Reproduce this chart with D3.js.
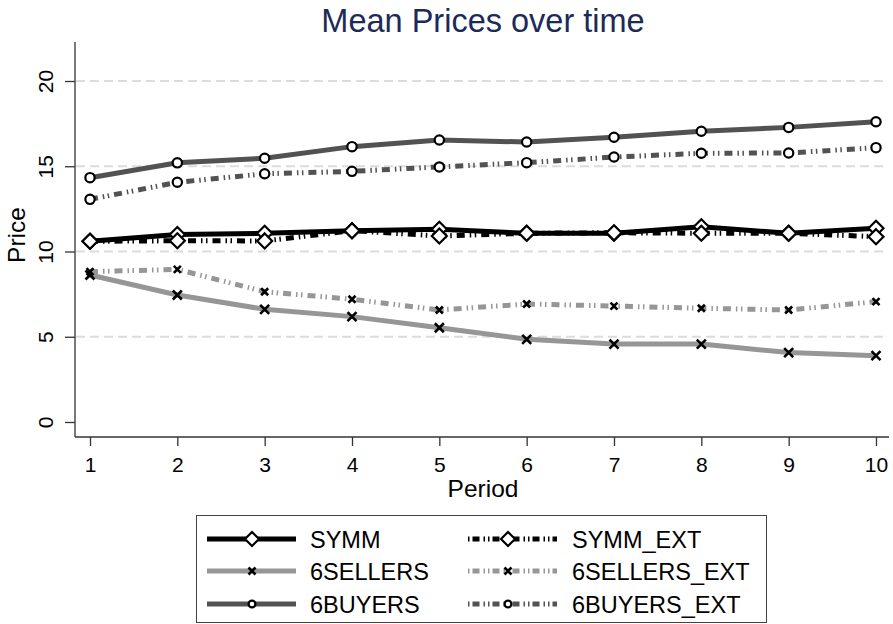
<!DOCTYPE html>
<html>
  <head>
    <script src="https://cdnjs.cloudflare.com/ajax/libs/d3/7.8.5/d3.min.js"></script>
    <style>
      body { margin: 0; background: #fff; }
      svg { font-family: "Liberation Sans", Arial, sans-serif; }
      .grid line { stroke: #dcdcdc; stroke-width: 2; stroke-dasharray: 9 5; }
      .axis path, .axis line { stroke: #333; stroke-width: 1.3; }
      .axis text { fill: #000; font-size: 21px; }
    </style>
  </head>
  <body>
    <svg width="893" height="624"></svg>
    <script>
      // values
      var periods = [1, 2, 3, 4, 5, 6, 7, 8, 9, 10];
      var yTicks = [0, 5, 10, 15, 20];
      var seriesNames = ["SYMM", "SYMM_EXT", "6SELLERS", "6SELLERS_EXT", "6BUYERS", "6BUYERS_EXT"];

      var symm        = [10.6, 11.0, 11.07, 11.22, 11.3, 11.07, 11.07, 11.45, 11.07, 11.36];
      var symmExt     = [10.6, 10.63, 10.62, 11.22, 10.91, 11.07, 11.1, 11.07, 11.07, 10.87];
      var sellers     = [8.62, 7.45, 6.61, 6.18, 5.53, 4.85, 4.57, 4.57, 4.07, 3.89];
      var sellersExt  = [8.82, 8.95, 7.64, 7.2, 6.57, 6.92, 6.8, 6.67, 6.57, 7.06];
      var buyers      = [14.33, 15.2, 15.47, 16.15, 16.54, 16.42, 16.7, 17.05, 17.28, 17.61];
      var buyersExt   = [13.06, 14.06, 14.56, 14.7, 14.96, 15.21, 15.54, 15.76, 15.78, 16.09];

      var seriesValues = [symm, symmExt, sellers, sellersExt, buyers, buyersExt];
      var colors = ["#000000", "#000000", "#969696", "#969696", "#525252", "#525252"];
      var markers = ["diamond", "diamond", "cross", "cross", "circle", "circle"];
      var dashed = [false, true, false, true, false, true];

      var svg = d3.select("svg");

      var x = d3.scaleLinear().domain([1, 10]).range([90, 876]);
      var y = d3.scaleLinear().domain([0, 20]).range([422, 81]);

      // title
      svg.append("text")
        .attr("x", 483).attr("y", 32)
        .attr("text-anchor", "middle")
        .style("font-size", "32.5px")
        .style("fill", "#1c2a57")
        .text("Mean Prices over time");

      // gridlines
      svg.append("g").attr("class", "grid")
        .selectAll("line")
        .data(yTicks.filter(d => d > 0))
        .enter().append("line")
        .attr("x1", 76).attr("x2", 886)
        .attr("y1", d => y(d)).attr("y2", d => y(d));

      // y axis
      var yAxis = svg.append("g").attr("class", "axis")
        .attr("transform", "translate(75,0)")
        .call(d3.axisLeft(y).tickValues(yTicks).tickSize(10).tickSizeOuter(0));
      yAxis.select(".domain").attr("d", "M0,42V437");
      yAxis.selectAll(".tick text")
        .attr("transform", "rotate(-90)")
        .attr("x", 0).attr("dy", null)
        .attr("y", -22)
        .attr("text-anchor", "middle");

      // x axis
      var xAxis = svg.append("g").attr("class", "axis")
        .attr("transform", "translate(0,437)")
        .call(d3.axisBottom(x).tickValues(periods).tickSize(9).tickSizeOuter(0));
      xAxis.select(".domain").attr("d", "M75,0H889");
      xAxis.selectAll("text").attr("y", 35).attr("dy", null);

      svg.append("text")
        .attr("transform", "translate(25,235) rotate(-90)")
        .attr("text-anchor", "middle")
        .style("font-size", "24.5px")
        .text("Price");

      svg.append("text")
        .attr("x", 483).attr("y", 497)
        .attr("text-anchor", "middle")
        .style("font-size", "24.5px")
        .text("Period");

      function drawMarker(g, type, cx, cy, s) {
        if (type == "diamond") {
          g.append("path")
            .attr("d", "M" + cx + "," + (cy - s) + "L" + (cx + s) + "," + cy + "L" + cx + "," + (cy + s) + "L" + (cx - s) + "," + cy + "Z")
            .style("fill", "#fff").style("stroke", "#000").style("stroke-width", 2.2);
        } else if (type == "circle") {
          g.append("circle")
            .attr("cx", cx).attr("cy", cy).attr("r", s * 0.62)
            .style("fill", "#fff").style("stroke", "#000").style("stroke-width", 2.2);
        } else {
          var c = s * 0.5;
          g.append("path")
            .attr("d", "M" + (cx - c) + "," + (cy - c) + "L" + (cx + c) + "," + (cy + c) + "M" + (cx - c) + "," + (cy + c) + "L" + (cx + c) + "," + (cy - c))
            .style("stroke", "#000").style("stroke-width", 2.6).style("fill", "none");
        }
      }

      var line = d3.line().x((d, i) => x(periods[i])).y(d => y(d));
      var dashPattern = "8 5 1.5 3.5 1.5 5";

      seriesValues.forEach((vals, k) => {
        var g = svg.append("g");
        g.append("path")
          .datum(vals)
          .attr("d", line)
          .style("fill", "none")
          .style("stroke", colors[k])
          .style("stroke-width", 5)
          .style("stroke-dasharray", dashed[k] ? dashPattern : null);
        vals.forEach((v, i) => {
          var size = markers[k] == "diamond" ? 7.5 : (markers[k] == "circle" ? 7.5 : (dashed[k] ? 7 : 9));
          drawMarker(g, markers[k], x(periods[i]), y(v), size);
        });
      });

      // legend
      var legend = svg.append("g");
      legend.append("rect")
        .attr("x", 196.5).attr("y", 515.5)
        .attr("width", 570).attr("height", 107)
        .style("fill", "#fff").style("stroke", "#444").style("stroke-width", 1);

      var rowY = [539, 571, 604];
      seriesNames.forEach((name, k) => {
        var col = k % 2, row = Math.floor(k / 2);
        var x0 = col == 0 ? 207 : 468, x1 = col == 0 ? 296 : 557;
        var mx = col == 0 ? 252 : 508;
        var ly = rowY[row];
        legend.append("line")
          .attr("x1", x0).attr("x2", x1).attr("y1", ly).attr("y2", ly)
          .style("stroke", colors[k])
          .style("stroke-width", 5)
          .style("stroke-dasharray", dashed[k] ? "1.5 3 7 4 1.5 3" : null);
        drawMarker(legend, markers[k], mx, ly, markers[k] == "diamond" ? 7 : (markers[k] == "circle" ? 5.5 : 7));
        legend.append("text")
          .attr("x", col == 0 ? 310 : 572).attr("y", ly + 8.5)
          .style("font-size", "23.5px")
          .text(name);
      });
    </script>
  </body>
</html>
